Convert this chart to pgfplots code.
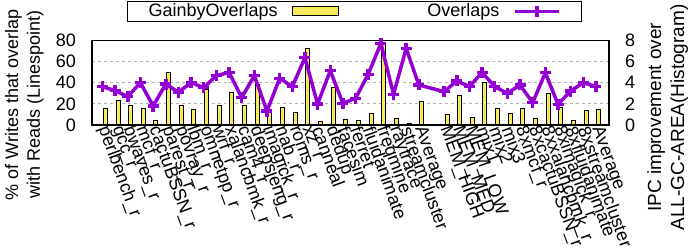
\documentclass[border=0pt]{standalone}
\usepackage{pgfplots}
\pgfplotsset{compat=1.18}
\usepackage{pgfplotstable}
\usepackage{fontspec}
\setmainfont{Liberation Sans}
\definecolor{barfill}{RGB}{245,235,90}
\definecolor{linecol}{RGB}{148,0,211}

\pgfplotsset{
  linelegend/.style={legend image code/.code={\draw[##1, mark repeat=2, mark phase=2] plot coordinates {(0bp,0bp) (22bp,0bp) (44bp,0bp)};}},
  barlegend/.style={legend image code/.code={\draw[draw=black, fill=barfill, line width=0.8bp] (0bp,-4.5bp) rectangle (46bp,4.5bp);}},
}

\pgfplotstableread{
x bar
0 1.57
1 2.33
2 1.86
3 1.57
4 0.44
5 4.97
6 1.86
7 1.48
8 3.40
9 1.86
10 3.09
11 1.86
12 3.85
13 1.20
14 1.67
15 1.20
16 7.24
17 0.35
18 3.56
19 0.54
20 0.44
21 1.10
22 7.60
23 0.63
24 0.16
25 2.24
27 1.01
28 2.80
29 0.72
30 4.03
31 1.57
32 1.10
33 1.57
34 0.63
35 2.99
36 1.67
37 0.44
38 1.39
39 1.48
}\bardata

\pgfplotstableread{
x ov
0 36.2
1 32.4
2 26.8
3 40.0
4 17.9
5 38.7
6 30.9
7 40.0
8 35.3
9 46.6
10 49.7
11 25.8
12 46.6
13 13.2
14 44.1
15 36.2
16 63.6
17 19.8
18 51.3
19 20.5
20 25.2
21 47.9
22 77.1
23 29.0
24 72.4
25 37.8
27 31.5
28 41.6
29 36.2
30 49.7
31 36.2
32 29.9
33 37.8
34 21.1
35 49.4
36 19.5
37 32.1
38 40.0
39 36.2
}\linedata

\begin{document}
\fontsize{18bp}{21.6bp}\selectfont
\begin{tikzpicture}
\pgfplotsset{
  every axis/.append style={font=\fontsize{18bp}{21.6bp}\selectfont},
  common/.style={
    scale only axis, width=517bp, height=84.7bp,
    xmin=-1.05, xmax=39.81,
    /pgf/number format/assume math mode=true,
    major tick length=0pt, minor tick length=0pt,
  },
}
% bars: right axis (IPC improvement)
\begin{axis}[common, name=ax,
  ymin=0, ymax=8, ytick={0,2,4,6,8},
  axis y line*=right, axis x line=none,
  ymajorgrids, major grid style={gray!60, dashed, line width=0.8bp},
  yticklabel style={xshift=10bp},
  ylabel={IPC improvement over\\ALL-GC-AREA(Histogram)},
  ylabel style={align=center, at={(ticklabel cs:0.09)}, font=\fontsize{19bp}{23bp}\selectfont},
  axis line style={line width=1.2bp},
]
\addplot[ybar, bar width=4bp, draw=black, fill=barfill, line width=0.8bp]
  table[x=x, y=bar] {\bardata};
\end{axis}
% line: left axis (% writes overlapping reads)
\begin{axis}[common,
  ymin=0, ymax=80, ytick={0,20,40,60,80},
  axis line style={line width=1.2bp},
  yticklabel style={xshift=-10bp},
  ylabel={\% of Writes that overlap\\with Reads (Linespoint)},
  ylabel style={align=center, at={(ticklabel cs:0.24)}},
  xtick={0,1,...,25,27,28,...,39},
  xticklabels={perlbench\_r,gcc\_r,bwaves\_r,mcf\_r,cactuBSSN\_r,parest\_r,povray\_r,lbm\_r,omnetpp\_r,wrf\_r,xalancbmk\_r,cam4\_r,deepsjeng\_r,imagick\_r,nab\_r,roms\_r,xz\_r,canneal,dedup,facesim,ferret,fluidanimate,freqmine,raytrace,streamcluster,Average,MEM\_HIGH,MEM\_MED,MEM\_LOW,mix1,mix2,mix3,8xmcf\_r,8xcactuBSSN\_r,8xxalancbmk\_r,8ximagick\_r,8xfluidanimate,8xstreamcluster,Average},
  xticklabel style={rotate=-70, anchor=west, inner sep=1bp, yshift=-3bp},
  legend columns=2, legend plot pos=right,
  legend style={at={(axis description cs:0.0677,1.464)}, anchor=north west,
    draw=black, line width=1bp, inner xsep=21bp, inner ysep=2bp,
    column sep=14bp, nodes={inner sep=0pt},
    font=\fontsize{18bp}{21.6bp}\selectfont},
]
\addlegendimage{barlegend}
\addlegendentry{GainbyOverlaps}
\addplot[linecol, line width=3.5bp, mark=+, mark size=5.5bp, mark options={line width=3.5bp}, linelegend]
  table[x expr=\thisrow{x}-0.22, y=ov] {\linedata};
\addlegendentry{\hspace{75bp}Overlaps}
\end{axis}
\pgfresetboundingbox
\path ([shift={(-92bp,-125bp)}]ax.south west) rectangle ([shift={(608bp,125bp)}]ax.south west);
\end{tikzpicture}
\end{document}
